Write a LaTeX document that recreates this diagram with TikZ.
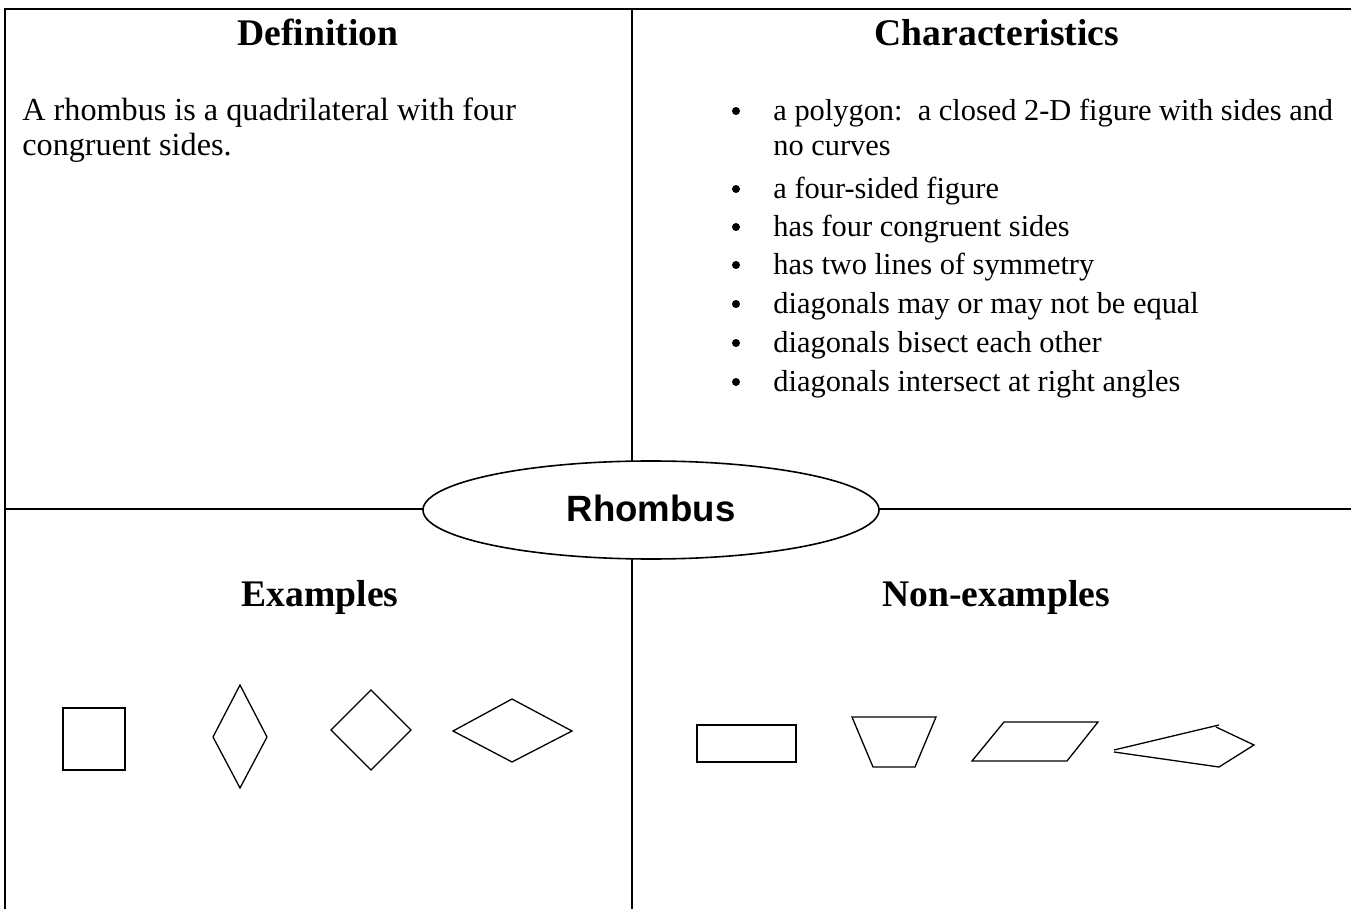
\documentclass[tikz,border=0pt]{standalone}
\usepackage{fontspec}
\setmainfont{Liberation Serif}
\newfontfamily\arialfont{Liberation Sans}
\usetikzlibrary{shapes.geometric}
\tikzset{
  frame/.style={line width=1pt},
  fig/.style={line width=0.65pt, line join=miter},
  heading/.style={anchor=base, inner sep=0pt, font=\fontsize{18.8}{22}\selectfont\bfseries},
  body/.style={anchor=base west, inner sep=0pt, font=\fontsize{16.1}{18.75}\selectfont},
  item/.style={anchor=base west, inner sep=0pt, font=\fontsize{15.2}{18}\selectfont},
  dot/.style={circle, fill=black, inner sep=0pt, minimum size=4pt},
}
\begin{document}
\begin{tikzpicture}[x=0.5pt,y=-0.5pt]
\useasboundingbox (0,0) rectangle (1351,909);
% frame lines
\coordinate (tl) at (4,9);
\coordinate (tr) at (1351,9);
\coordinate (lt) at (5,9);
\coordinate (bl) at (5,909);
\coordinate (mt) at (632,9);
\coordinate (mb) at (632,909);
\coordinate (hl) at (5,509);
\coordinate (hr) at (1351,509);
\draw[frame] (tl) -- (tr);
\draw[frame] (lt) -- (bl);
\draw[frame] (mt) -- (mb);
\draw[frame] (hl) -- (hr);
% centre ellipse
\node[ellipse, draw, line width=0.8pt, fill=white, minimum width=228pt, minimum height=49pt, inner sep=0pt] (center) at (651,510) {};
\node[anchor=base, inner sep=0pt, font=\arialfont\fontsize{18.3}{22}\selectfont\bfseries] (title) at (651,522) {Rhombus};
% headings
\node[heading] (hdef) at (318,46) {Definition};
\node[heading] (hchar) at (997,46) {Characteristics};
\node[heading] (hex) at (320,606) {Examples};
\node[heading] (hnon) at (996,606) {Non-examples};
% definition
\node[body] (d1) at (22,121) {A rhombus is a quadrilateral with four};
\node[body] (d2) at (22,156) {congruent sides.};
% characteristics
\foreach \y/\t [count=\i] in {
  121/{a polygon:\ \ a closed 2-D figure with sides and},
  156/{no curves},
  199/{a four-sided figure},
  237/{has four congruent sides},
  275/{has two lines of symmetry},
  314/{diagonals may or may not be equal},
  353/{diagonals bisect each other},
  392/{diagonals intersect at right angles}}{
  \node[item] (c\i) at (773,\y) {\t};
}
\foreach \y [count=\i] in {121,199,237,275,314,353,392}{
  \node[dot] (b\i) at (736,\y-10) {};
}
% examples
\draw[fig] (63,708) rectangle (125,770);
\draw[fig] (240,685) -- (267,737) -- (240,788) -- (213,737) -- cycle;
\draw[fig] (371,690) -- (411,730) -- (371,770) -- (331,730) -- cycle;
\draw[fig] (512,699) -- (572,731) -- (512,762) -- (453,731) -- cycle;
% non-examples
\draw[fig] (697,725) rectangle (796,762);
\draw[fig] (852,717) -- (936,717) -- (915,767) -- (873,767) -- cycle;
\draw[fig] (1004,722) -- (1098,722) -- (1067,761) -- (972,761) -- cycle;
\draw[fig] (1114,750) -- (1219,725);
\draw[fig] (1216,727) -- (1254,745) -- (1219,767) -- (1114,752);
\end{tikzpicture}
\end{document}
